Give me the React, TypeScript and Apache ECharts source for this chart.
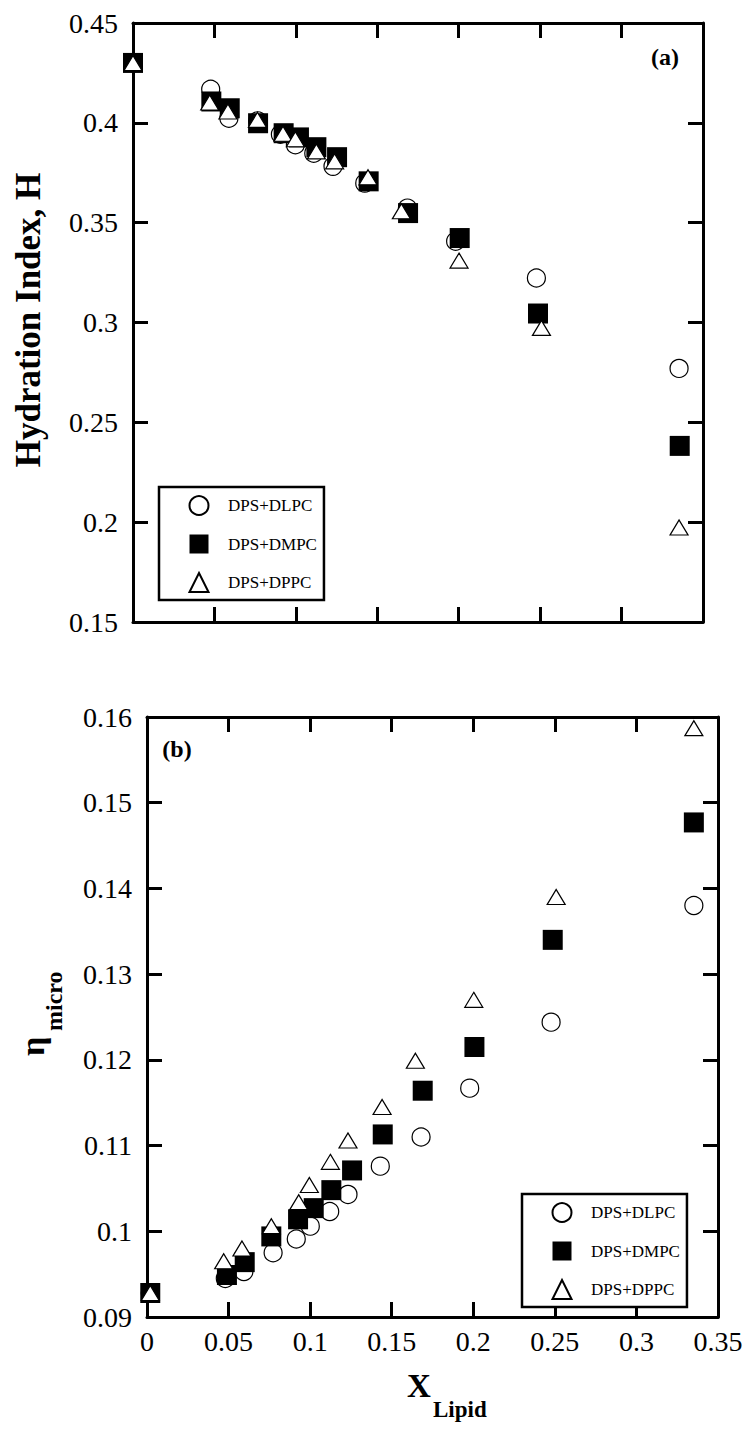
import React, { useEffect, useRef } from "react";
import * as echarts from "echarts";

const FONT = "Liberation Serif";

const seriesNames = ["DPS+DLPC", "DPS+DMPC", "DPS+DPPC"];

// Panel (a): hydration index H vs X_Lipid
const xTopDLPC = [0, 0.0477, 0.0589, 0.0766, 0.0905, 0.0997, 0.111, 0.1228, 0.1423, 0.1685, 0.1981, 0.2477, 0.3353];
const hDLPC = [0.43, 0.4168, 0.4023, 0.401, 0.3943, 0.389, 0.3848, 0.3782, 0.3698, 0.3573, 0.3407, 0.3223, 0.277];
const xTopDMPC = [0, 0.0481, 0.0594, 0.0768, 0.0925, 0.1019, 0.1126, 0.1253, 0.1447, 0.1689, 0.2006, 0.2487, 0.3357];
const hDMPC = [0.43, 0.4107, 0.4073, 0.3998, 0.3948, 0.3927, 0.3878, 0.3828, 0.3707, 0.3548, 0.3423, 0.3045, 0.2382];
const xTopDPPC = [0, 0.0471, 0.0583, 0.0764, 0.0921, 0.0997, 0.1126, 0.1238, 0.1443, 0.1648, 0.2002, 0.2508, 0.3353];
const hDPPC = [0.43, 0.4102, 0.4057, 0.4015, 0.3945, 0.3918, 0.3857, 0.3807, 0.3727, 0.3557, 0.331, 0.2973, 0.1973];

// Panel (b): eta_micro vs X_Lipid
const xBotDLPC = [0.002, 0.048, 0.0594, 0.0773, 0.0915, 0.1001, 0.112, 0.1232, 0.143, 0.168, 0.1978, 0.2477, 0.3352];
const etaDLPC = [0.0928, 0.0945, 0.0953, 0.0975, 0.0991, 0.1006, 0.1023, 0.1043, 0.1076, 0.111, 0.1167, 0.1244, 0.138];
const xBotDMPC = [0.002, 0.049, 0.0599, 0.0762, 0.0926, 0.1022, 0.113, 0.1257, 0.1445, 0.169, 0.2007, 0.2487, 0.3352];
const etaDMPC = [0.0928, 0.0949, 0.0964, 0.0994, 0.1014, 0.1027, 0.1048, 0.1071, 0.1113, 0.1164, 0.1215, 0.134, 0.1477];
const xBotDPPC = [0.002, 0.047, 0.0582, 0.0762, 0.093, 0.0995, 0.1124, 0.1232, 0.1441, 0.1645, 0.2003, 0.2508, 0.3352];
const etaDPPC = [0.0928, 0.0965, 0.098, 0.1006, 0.1034, 0.1054, 0.1081, 0.1106, 0.1145, 0.1199, 0.127, 0.139, 0.1587];

const zip = (xs: number[], ys: number[]) => xs.map((x, i) => [x, ys[i]]);

const axisLine = { show: true, onZero: false, lineStyle: { color: "#000", width: 3 } };
const axisTick = { show: true, inside: true, length: 15, lineStyle: { color: "#000", width: 3 } };
const labelStyle = { fontFamily: FONT, fontSize: 28, color: "#000" };

const symbolStyles = [
  { symbol: "circle", symbolSize: 18, itemStyle: { color: "#fff", borderColor: "#000", borderWidth: 1.2, opacity: 1 } },
  { symbol: "rect", symbolSize: 20, itemStyle: { color: "#000", borderColor: "#000", borderWidth: 0, opacity: 1 } },
  { symbol: "triangle", symbolSize: [18, 15], itemStyle: { color: "#fff", borderColor: "#000", borderWidth: 1.2, opacity: 1 } },
];

function xAxisDef(gridIndex: number, position: string, labels: boolean) {
  return {
    type: "value",
    gridIndex,
    position,
    min: 0,
    max: 0.35,
    interval: 0.05,
    axisLine,
    axisTick,
    splitLine: { show: false },
    axisLabel: { show: labels, margin: 10, ...labelStyle },
  };
}

function yAxisDef(gridIndex: number, position: string, labels: boolean, min: number, max: number, interval: number) {
  return {
    type: "value",
    gridIndex,
    position,
    min,
    max,
    interval,
    axisLine,
    axisTick,
    splitLine: { show: false },
    axisLabel: { show: labels, margin: 15, ...labelStyle },
  };
}

function legendDef(left: number, top: number) {
  return {
    data: seriesNames,
    orient: "vertical",
    left,
    top,
    itemWidth: 19,
    itemHeight: 19,
    itemGap: 18.5,
    padding: [8, 7, 7, 29.5],
    borderColor: "#000",
    borderWidth: 2.5,
    backgroundColor: "#fff",
    selectedMode: false,
    symbolKeepAspect: true,
    textStyle: { fontFamily: FONT, fontSize: 17, color: "#000", padding: [0, 0, 0, 14.5] },
  };
}

function textEl(text: string, x: number, y: number, size: number, align: string, rotation = 0, weight = "bold") {
  return {
    type: "text",
    x,
    y,
    rotation,
    z: 100,
    style: {
      text,
      fontFamily: FONT,
      fontSize: size,
      fontWeight: weight,
      fill: "#000",
      align,
      verticalAlign: "middle",
      textAlign: align,
      textVerticalAlign: "middle",
    },
  };
}

export default function App() {
  const ref = useRef<HTMLDivElement>(null);

  useEffect(() => {
    if (!ref.current) return;
    const chart = echarts.init(ref.current, undefined, { renderer: "svg" });
    const topData = [zip(xTopDLPC, hDLPC), zip(xTopDMPC, hDMPC), zip(xTopDPPC, hDPPC)];
    const botData = [zip(xBotDLPC, etaDLPC), zip(xBotDMPC, etaDMPC), zip(xBotDPPC, etaDPPC)];
    const series: any[] = [];
    seriesNames.forEach((name, i) => {
      series.push({
        type: "scatter",
        name,
        xAxisIndex: 0,
        yAxisIndex: 0,
        clip: false,
        data: topData[i],
        ...symbolStyles[i],
      });
    });
    seriesNames.forEach((name, i) => {
      series.push({
        type: "scatter",
        name,
        xAxisIndex: 2,
        yAxisIndex: 2,
        clip: false,
        data: botData[i],
        ...symbolStyles[i],
      });
    });

    chart.setOption({
      animation: false,
      backgroundColor: "#fff",
      grid: [
        { left: 133, top: 23, width: 570, height: 599, containLabel: false },
        { left: 147, top: 717, width: 571, height: 600, containLabel: false },
      ],
      xAxis: [
        xAxisDef(0, "bottom", false),
        xAxisDef(0, "top", false),
        xAxisDef(1, "bottom", true),
        xAxisDef(1, "top", false),
      ],
      yAxis: [
        yAxisDef(0, "left", true, 0.15, 0.45, 0.05),
        yAxisDef(0, "right", false, 0.15, 0.45, 0.05),
        yAxisDef(1, "left", true, 0.09, 0.16, 0.01),
        yAxisDef(1, "right", false, 0.09, 0.16, 0.01),
      ],
      legend: [legendDef(159, 487), legendDef(522, 1194)],
      series,
      graphic: [
        textEl("Hydration Index, H", 28, 320, 35, "center", Math.PI / 2),
        textEl("(a)", 665, 57, 24, "center"),
        textEl("(b)", 177, 749, 24, "center"),
        textEl("η", 32.5, 1056, 34, "left", Math.PI / 2),
        textEl("micro", 54, 1031, 24, "left", Math.PI / 2),
        textEl("X", 407, 1386, 33, "left"),
        textEl("Lipid", 433, 1409, 23, "left"),
      ],
    });
    return () => chart.dispose();
  }, []);

  return (
    <div
      ref={ref}
      style={{ position: "absolute", left: 0, top: 0, width: 754, height: 1433, background: "#fff" }}
    />
  );
}
